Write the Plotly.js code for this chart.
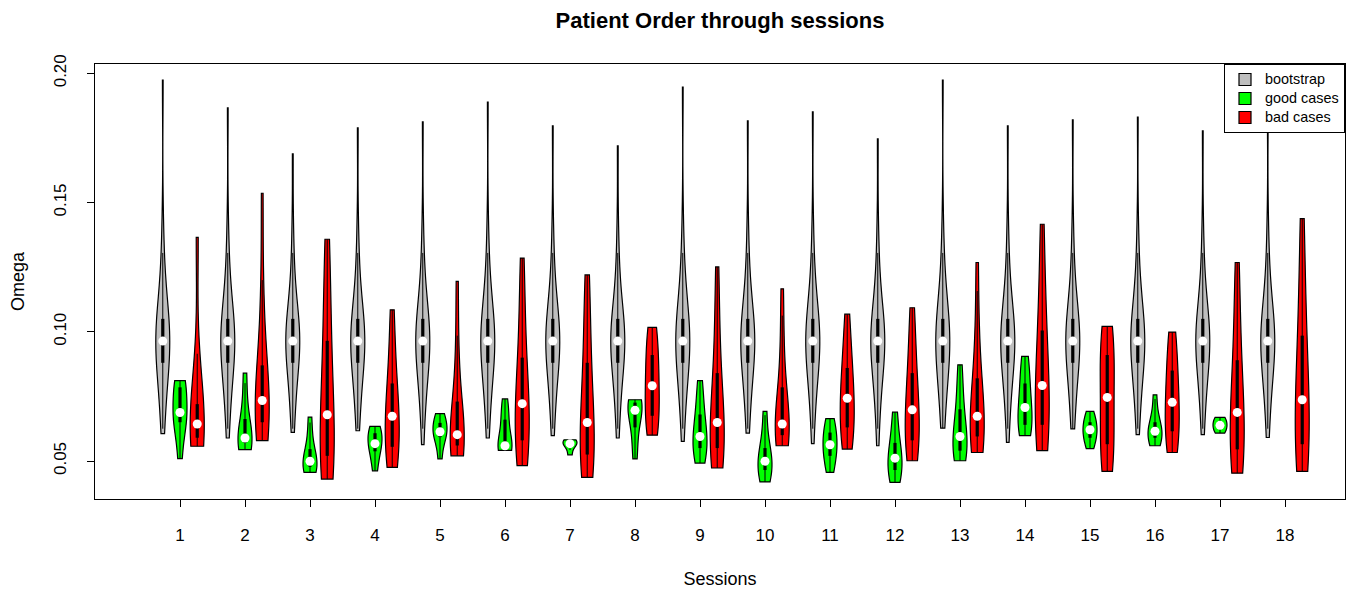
<!DOCTYPE html>
<html>
<head>
<meta charset="utf-8">
<script src="https://cdn.plot.ly/plotly-3.0.1.min.js"></script>
<style>
  html, body { margin: 0; padding: 0; background: #ffffff; }
  #chart { width: 1351px; height: 594px; }
</style>
</head>
<body>
<div id="chart"></div>
<script>
// ---------------- data ----------------
const sessions = [1, 2, 3, 4, 5, 6, 7, 8, 9, 10, 11, 12, 13, 14, 15, 16, 17, 18];
const sessionLabels = ['1','2','3','4','5','6','7','8','9','10','11','12','13','14','15','16','17','18'];
const omegaTicks = [0.05, 0.10, 0.15, 0.20];
const omegaTickLabels = ['0.05', '0.10', '0.15', '0.20'];
const seriesNames = ['bootstrap', 'good cases', 'bad cases'];

// bootstrap: common body of the bootstrap distribution, plus per-session extremes
const bootstrapBody = [0.0650, 0.0700, 0.0740, 0.0780, 0.0810, 0.0840, 0.0870, 0.0890, 0.0905, 0.0918,
                       0.0930, 0.0942, 0.0950, 0.0957, 0.0964, 0.0972, 0.0982, 0.0994, 0.1006, 0.1018,
                       0.1030, 0.1042, 0.1058, 0.1085, 0.1120, 0.1160, 0.1220, 0.1300, 0.1410];
const bootstrapMin = [0.0606, 0.0589, 0.0611, 0.0617, 0.0563, 0.0589, 0.0598, 0.0589, 0.0576,
                      0.0608, 0.0567, 0.0559, 0.0627, 0.0572, 0.0624, 0.0602, 0.0602, 0.0591];
const bootstrapMax = [0.1974, 0.1866, 0.1688, 0.1789, 0.1812, 0.1889, 0.1797, 0.1719, 0.1947,
                      0.1816, 0.1851, 0.1746, 0.1974, 0.1797, 0.1820, 0.1831, 0.1777, 0.1850];

// good cases per session (session 18 has none)
const goodCases = [
  [0.0509, 0.0620, 0.0660, 0.0685, 0.0690, 0.0780, 0.0800, 0.0811],
  [0.0544, 0.0562, 0.0578, 0.0589, 0.0615, 0.0710, 0.0840],
  [0.0456, 0.0470, 0.0485, 0.0499, 0.0512, 0.0580, 0.0670],
  [0.0462, 0.0520, 0.0555, 0.0567, 0.0600, 0.0615, 0.0634],
  [0.0508, 0.0580, 0.0605, 0.0613, 0.0635, 0.0660, 0.0683],
  [0.0541, 0.0546, 0.0550, 0.0555, 0.0559, 0.0620, 0.0660, 0.0700, 0.0740],
  [0.0524, 0.0562, 0.0567, 0.0575, 0.0582],
  [0.0508, 0.0590, 0.0670, 0.0696, 0.0720, 0.0732, 0.0737],
  [0.0492, 0.0520, 0.0550, 0.0575, 0.0595, 0.0630, 0.0680, 0.0740, 0.0811],
  [0.0419, 0.0450, 0.0480, 0.0499, 0.0520, 0.0580, 0.0692],
  [0.0456, 0.0500, 0.0540, 0.0563, 0.0590, 0.0630, 0.0664],
  [0.0417, 0.0450, 0.0480, 0.0511, 0.0540, 0.0600, 0.0689],
  [0.0501, 0.0520, 0.0540, 0.0570, 0.0595, 0.0630, 0.0700, 0.0780, 0.0872],
  [0.0598, 0.0610, 0.0640, 0.0670, 0.0707, 0.0750, 0.0800, 0.0860, 0.0905],
  [0.0548, 0.0580, 0.0600, 0.0621, 0.0640, 0.0660, 0.0692],
  [0.0559, 0.0580, 0.0600, 0.0615, 0.0630, 0.0670, 0.0756],
  [0.0608, 0.0625, 0.0638, 0.0655, 0.0669],
  []
];

// bad cases per session
const badCases = [
  [0.0557, 0.0565, 0.0590, 0.0620, 0.0643, 0.0670, 0.0720, 0.0850, 0.1365],
  [0.0579, 0.0590, 0.0620, 0.0650, 0.0680, 0.0710, 0.0734, 0.0760, 0.0800, 0.0870, 0.0980, 0.1180, 0.1536],
  [0.0430, 0.0450, 0.0490, 0.0550, 0.0610, 0.0679, 0.0780, 0.0900, 0.1030, 0.1180, 0.1358],
  [0.0475, 0.0490, 0.0530, 0.0580, 0.0630, 0.0673, 0.0710, 0.0760, 0.0840, 0.0950, 0.1085],
  [0.0520, 0.0530, 0.0550, 0.0570, 0.0585, 0.0602, 0.0630, 0.0680, 0.0780, 0.0950, 0.1195],
  [0.0482, 0.0500, 0.0540, 0.0580, 0.0630, 0.0680, 0.0722, 0.0760, 0.0820, 0.0900, 0.1020, 0.1145, 0.1285],
  [0.0437, 0.0455, 0.0500, 0.0550, 0.0600, 0.0649, 0.0720, 0.0820, 0.0940, 0.1070, 0.1220],
  [0.0600, 0.0615, 0.0650, 0.0700, 0.0750, 0.0791, 0.0830, 0.0880, 0.0940, 0.0990, 0.1017],
  [0.0473, 0.0490, 0.0530, 0.0570, 0.0610, 0.0649, 0.0700, 0.0780, 0.0900, 0.1050, 0.1251],
  [0.0559, 0.0570, 0.0590, 0.0610, 0.0625, 0.0643, 0.0680, 0.0740, 0.0830, 0.0980, 0.1166],
  [0.0546, 0.0570, 0.0610, 0.0650, 0.0700, 0.0743, 0.0780, 0.0830, 0.0890, 0.0970, 0.1068],
  [0.0501, 0.0520, 0.0560, 0.0600, 0.0650, 0.0698, 0.0740, 0.0800, 0.0880, 0.0980, 0.1093],
  [0.0533, 0.0550, 0.0580, 0.0610, 0.0640, 0.0673, 0.0710, 0.0770, 0.0870, 0.1020, 0.1268],
  [0.0540, 0.0560, 0.0610, 0.0670, 0.0730, 0.0792, 0.0860, 0.0950, 0.1060, 0.1210, 0.1416],
  [0.0460, 0.0480, 0.0530, 0.0600, 0.0670, 0.0746, 0.0810, 0.0880, 0.0940, 0.0990, 0.1021],
  [0.0533, 0.0550, 0.0590, 0.0640, 0.0680, 0.0727, 0.0770, 0.0820, 0.0880, 0.0950, 0.0999],
  [0.0453, 0.0470, 0.0520, 0.0570, 0.0630, 0.0688, 0.0750, 0.0830, 0.0950, 0.1100, 0.1268],
  [0.0460, 0.0480, 0.0530, 0.0600, 0.0670, 0.0737, 0.0820, 0.0920, 0.1050, 0.1220, 0.1438]
];

// ---------------- helpers ----------------
function sortedCopy(a) { return a.slice().sort(function (p, q) { return p - q; }); }
function quantile7(s, p) {
  var h = (s.length - 1) * p, lo = Math.floor(h), hi = Math.min(lo + 1, s.length - 1);
  return s[lo] + (h - lo) * (s[hi] - s[lo]);
}
function summary(a) {
  var s = sortedCopy(a);
  var q1 = quantile7(s, 0.25), med = quantile7(s, 0.5), q3 = quantile7(s, 0.75), iqr = q3 - q1;
  return { q1: q1, med: med, q3: q3,
           lo: Math.max(q1 - 1.5 * iqr, s[0]), hi: Math.min(q3 + 1.5 * iqr, s[s.length - 1]) };
}
// normal-optimal smoothing parameter (as sm.density's hnorm, used by R's vioplot)
function normalBandwidth(a) {
  var n = a.length, m = a.reduce(function (x, y) { return x + y; }, 0) / n;
  var sd = Math.sqrt(a.reduce(function (x, y) { return x + (y - m) * (y - m); }, 0) / (n - 1));
  return sd * Math.pow(4 / (3 * n), 0.2);
}

const groups = [
  { name: seriesNames[0], color: '#BEBEBE', offset: -0.265,
    values: function (i) { return [bootstrapMin[i]].concat(bootstrapBody, [bootstrapMax[i]]); } },
  { name: seriesNames[1], color: '#00FF00', offset: 0,
    values: function (i) { return goodCases[i]; } },
  { name: seriesNames[2], color: '#FF0000', offset: 0.265,
    values: function (i) { return badCases[i]; } }
];

const FONT = 'Liberation Sans, Arial, sans-serif';
const LEGEND_TEXT_PX = 14.4;

// ---------------- traces ----------------
const traces = [];
const wx = [], wy = [], bx = [], by = [], mx = [], my = [];
const legendShown = {};
sessions.forEach(function (s, i) {
  groups.forEach(function (g) {
    var v = g.values(i);
    if (!v || v.length < 2) return;
    var pos = s + g.offset;
    traces.push({
      type: 'violin', x0: pos, y: v,
      name: '<span style="font-size:' + LEGEND_TEXT_PX + 'px">' + g.name + '</span>',
      showlegend: !legendShown[g.name],
      fillcolor: g.color, line: { color: '#000000', width: 1.2 },
      points: false, box: { visible: false }, meanline: { visible: false },
      spanmode: 'hard', scalemode: 'width', width: 0.215, bandwidth: normalBandwidth(v),
      hoverinfo: 'skip'
    });
    legendShown[g.name] = true;
    var st = summary(v);
    wx.push(pos, pos, null); wy.push(st.lo, st.hi, null);
    bx.push(pos, pos, null); by.push(st.q1, st.q3, null);
    mx.push(pos); my.push(st.med);
  });
});
traces.push({ type: 'scatter', mode: 'lines', x: wx, y: wy, line: { color: '#000000', width: 1 },
              showlegend: false, hoverinfo: 'skip' });
traces.push({ type: 'scatter', mode: 'lines', x: bx, y: by, line: { color: '#000000', width: 3.2 },
              showlegend: false, hoverinfo: 'skip' });
traces.push({ type: 'scatter', mode: 'markers', x: mx, y: my,
              marker: { color: '#FFFFFF', size: 9, line: { width: 0 } },
              showlegend: false, hoverinfo: 'skip' });

const layout = {
  width: 1351, height: 594,
  margin: { l: 95, r: 6, t: 64, b: 95 },
  paper_bgcolor: '#ffffff', plot_bgcolor: '#ffffff',
  font: { family: FONT, color: '#000000', size: 17 },
  title: { text: '<b>Patient Order through sessions</b>', x: 0.5, xref: 'paper',
           y: 1 - 20 / 594, yref: 'container', yanchor: 'middle',
           font: { family: FONT, size: 22, color: '#000000' } },
  violinmode: 'overlay',
  showlegend: true,
  legend: { x: 1, xanchor: 'right', y: 1, yanchor: 'top', bgcolor: '#ffffff',
            bordercolor: '#000000', borderwidth: 1, font: { family: FONT, size: 11.2, color: '#000000' },
            traceorder: 'normal' },
  xaxis: { type: 'linear', range: [-0.3077, 18.923], tickvals: sessions, ticktext: sessionLabels,
           ticks: 'outside', ticklen: 7, tickwidth: 1, tickcolor: '#000000',
           ticklabelstandoff: 14,
           showline: true, mirror: true, linecolor: '#000000', linewidth: 1,
           showgrid: false, zeroline: false, tickfont: { family: FONT, size: 17, color: '#000000' },
           title: { text: 'Sessions', font: { family: FONT, size: 18, color: '#000000' }, standoff: 27 } },
  yaxis: { type: 'linear', range: [0.0353, 0.2036], tickvals: omegaTicks, ticktext: omegaTickLabels,
           tickangle: -90, ticks: 'outside', ticklen: 7, tickwidth: 1, tickcolor: '#000000',
           ticklabelstandoff: 14,
           showline: true, mirror: true, linecolor: '#000000', linewidth: 1,
           showgrid: false, zeroline: false, tickfont: { family: FONT, size: 17, color: '#000000' },
           title: { text: 'Omega', font: { family: FONT, size: 18, color: '#000000' }, standoff: 21 } }
};

Plotly.newPlot('chart', traces, layout, { staticPlot: true, displayModeBar: false });
</script>
</body>
</html>
